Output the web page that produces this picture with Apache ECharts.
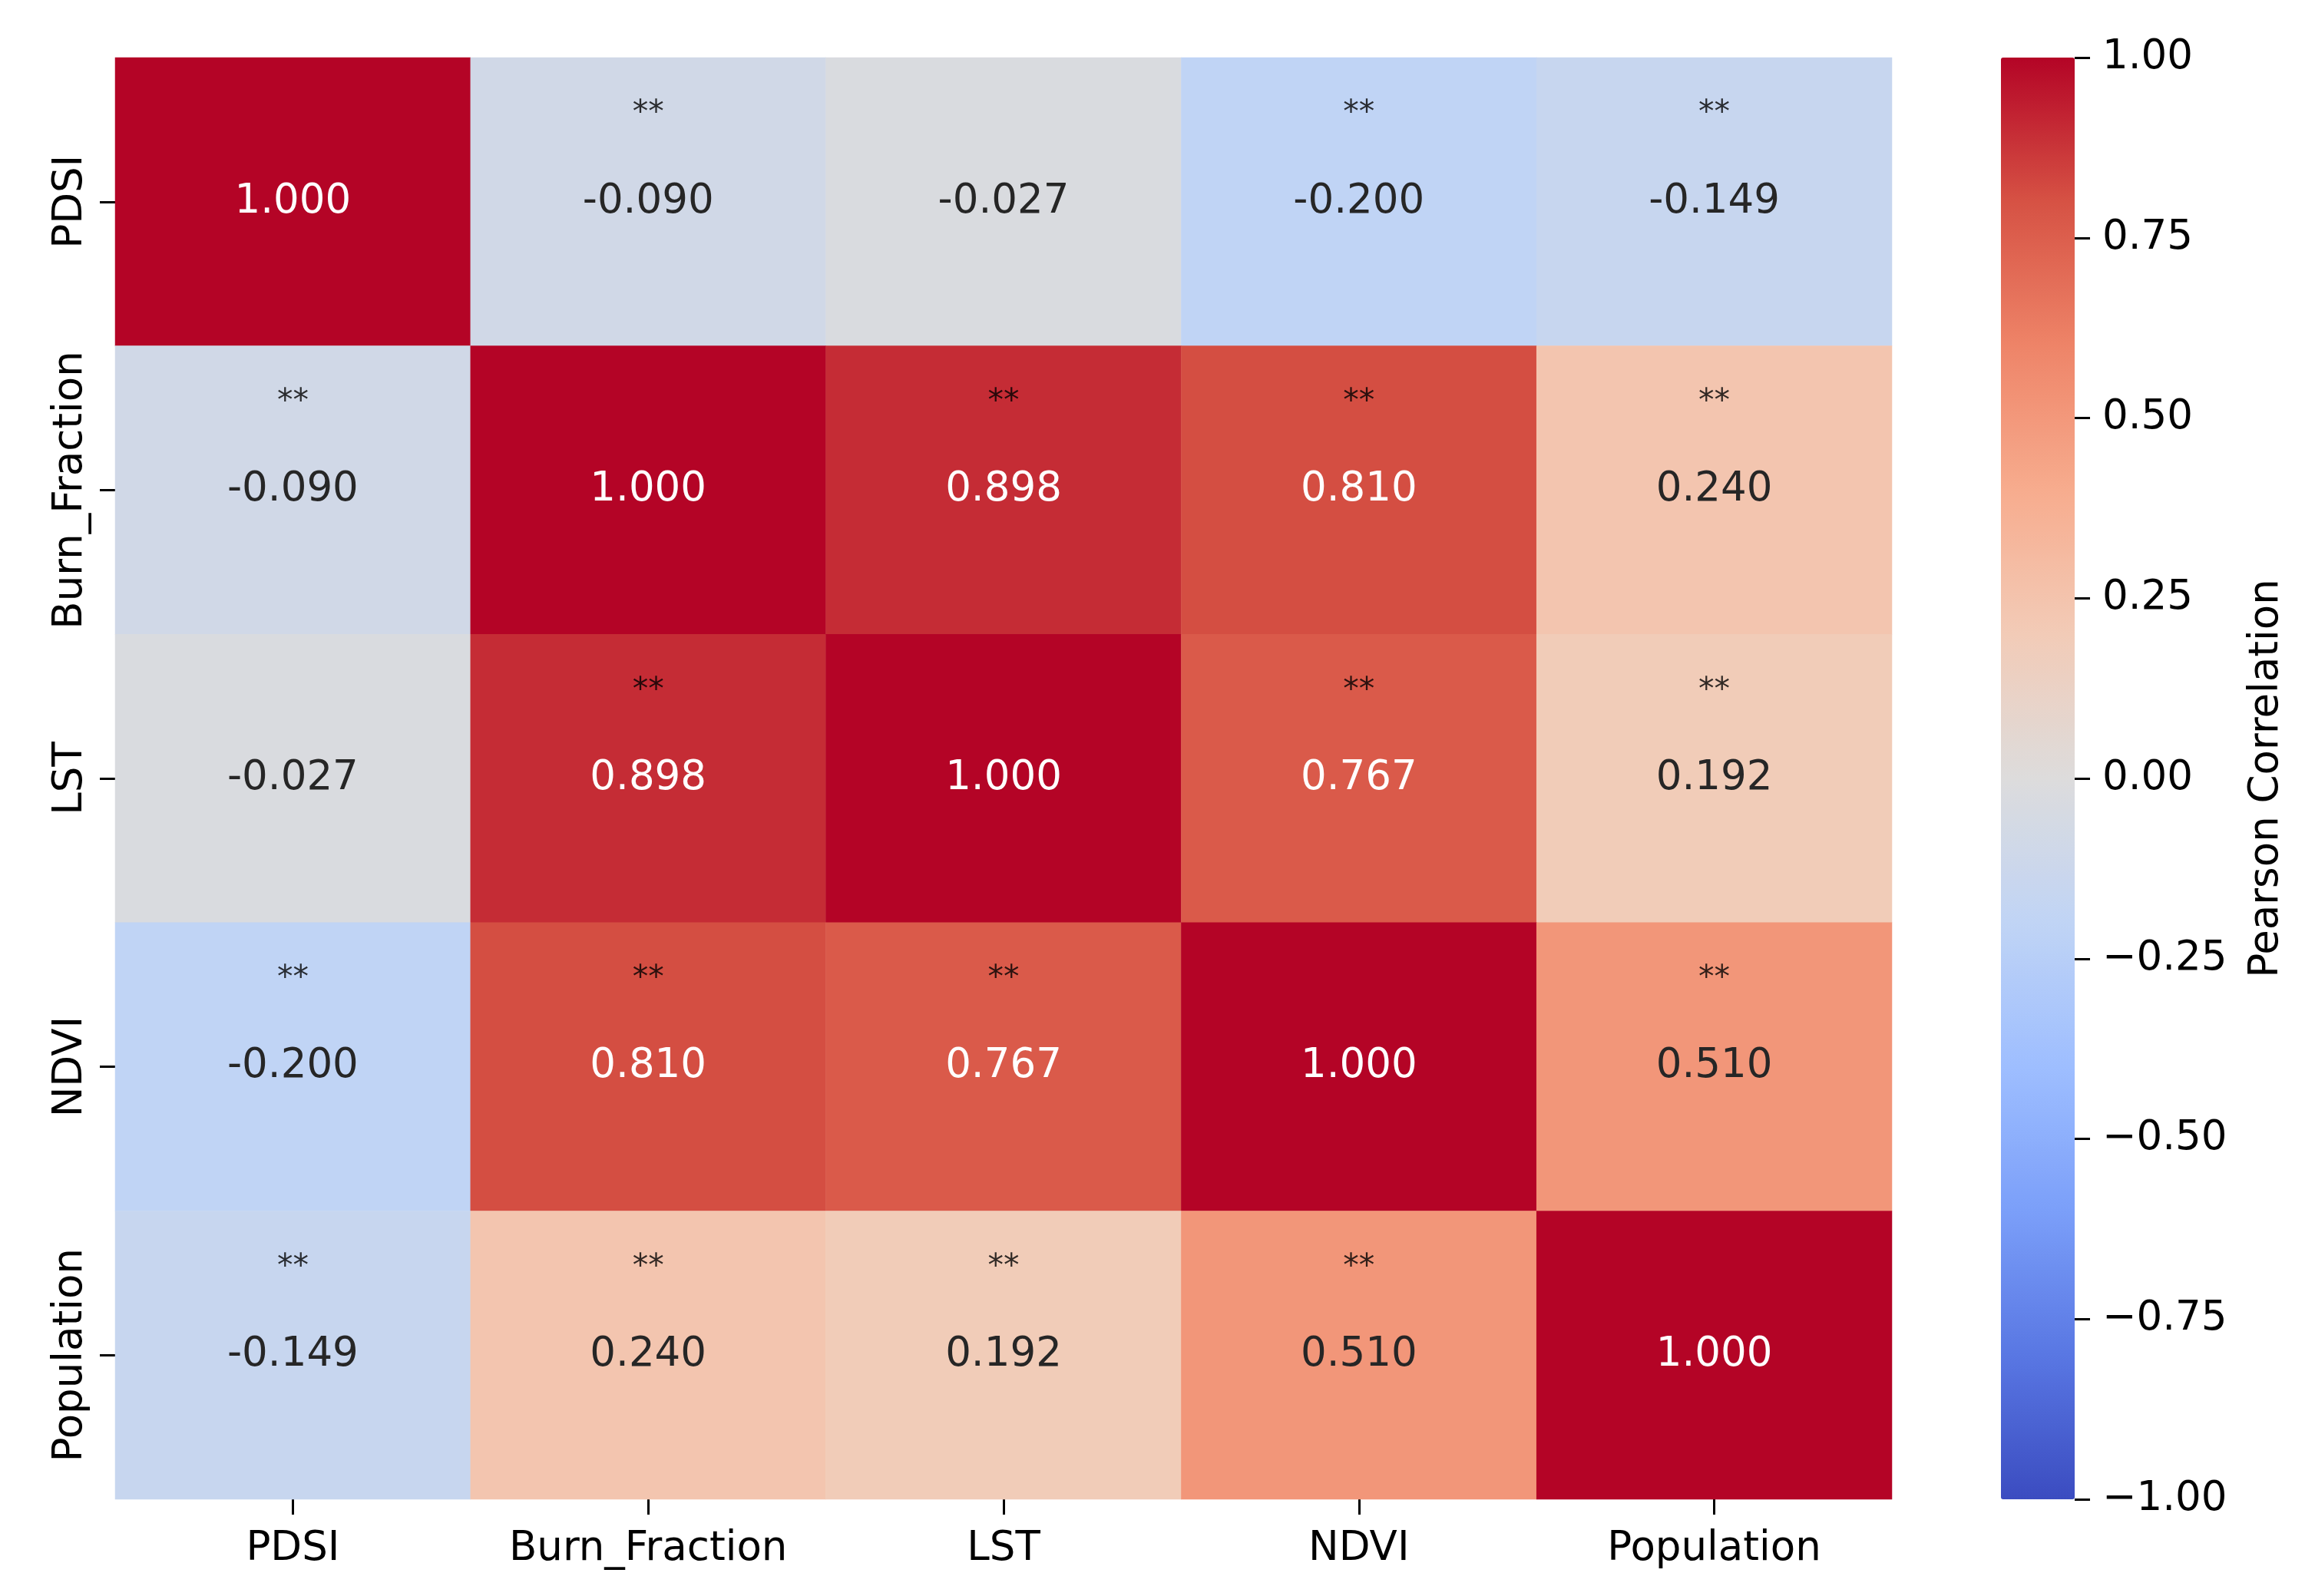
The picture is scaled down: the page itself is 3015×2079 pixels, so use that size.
<!DOCTYPE html>
<html>
<head>
<meta charset="utf-8">
<script src="https://cdn.jsdelivr.net/npm/echarts@6/dist/echarts.min.js"></script>
<style>
html,body{margin:0;padding:0;background:#fff;}
#chart{width:3015px;height:2079px;}
</style>
</head>
<body>
<div id="chart"></div>
<script>
const variables = ['PDSI', 'Burn_Fraction', 'LST', 'NDVI', 'Population'];
const corrPDSI = [1.000, -0.090, -0.027, -0.200, -0.149];
const corrBurn = [-0.090, 1.000, 0.898, 0.810, 0.240];
const corrLST = [-0.027, 0.898, 1.000, 0.767, 0.192];
const corrNDVI = [-0.200, 0.810, 0.767, 1.000, 0.510];
const corrPop = [-0.149, 0.240, 0.192, 0.510, 1.000];
const sigPDSI = ['', '**', '', '**', '**'];
const sigBurn = ['**', '', '**', '**', '**'];
const sigLST = ['', '**', '', '**', '**'];
const sigNDVI = ['**', '**', '**', '', '**'];
const sigPop = ['**', '**', '**', '**', ''];
const colorbarTicks = [-1.00, -0.75, -0.50, -0.25, 0.00, 0.25, 0.50, 0.75, 1.00];
const colorbarLabel = 'Pearson Correlation';
const coolwarm = ['#3b4cc0', '#5977e3', '#7b9ff9', '#9ebeff', '#c0d4f5', '#dddcdc',
                  '#f2cbb7', '#f7ac8e', '#ee8468', '#d65244', '#b40426'];

const matrix = [corrPDSI, corrBurn, corrLST, corrNDVI, corrPop];
const sig = [sigPDSI, sigBurn, sigLST, sigNDVI, sigPop];

const heatData = [];
const starData = [];
matrix.forEach((row, r) => {
  row.forEach((v, c) => {
    heatData.push({
      value: [c, r, v],
      label: { color: v > 0.7 ? '#ffffff' : '#262626' }
    });
    if (sig[r][c]) starData.push({ value: [c, r], name: sig[r][c] });
  });
});

const FONT = 'DejaVu Sans';
const FS = 53;
const chart = echarts.init(document.getElementById('chart'), null, { renderer: 'canvas' });
chart.setOption({
  backgroundColor: '#ffffff',
  animation: false,
  textStyle: { fontFamily: FONT },
  grid: [
    { left: 150, top: 75, width: 2314, height: 1878 },
    { left: 2606, top: 75, width: 96, height: 1878 }
  ],
  xAxis: [
    {
      type: 'category', data: variables, gridIndex: 0, position: 'bottom',
      axisLine: { show: false },
      axisTick: { show: true, alignWithLabel: true, length: 20, lineStyle: { color: '#000', width: 3 } },
      axisLabel: { color: '#000', fontSize: FS, fontFamily: FONT, margin: 39, interval: 0 },
      splitLine: { show: false }
    },
    { type: 'value', gridIndex: 1, show: false, min: 0, max: 1,
      axisLine: { show: false, onZero: false }, axisTick: { show: false }, axisLabel: { show: false } }
  ],
  yAxis: [
    {
      type: 'category', data: variables, gridIndex: 0, inverse: true,
      axisLine: { show: false },
      axisTick: { show: true, alignWithLabel: true, length: 20, lineStyle: { color: '#000', width: 3 } },
      axisLabel: { color: '#000', fontSize: FS, fontFamily: FONT, rotate: 90, margin: 31, interval: 0 },
      splitLine: { show: false }
    },
    {
      type: 'value', gridIndex: 1, position: 'right', min: -1, max: 1, interval: 0.25,
      z: 10,
      axisLine: { show: false, onZero: false },
      axisTick: { show: true, inside: false, length: 20, lineStyle: { color: '#000', width: 3 } },
      axisLabel: {
        color: '#000', fontSize: FS, fontFamily: FONT, margin: 36, padding: [10, 0, 0, 0],
        formatter: v => v.toFixed(2).replace('-', '\u2212')
      },
      splitLine: { show: false },
      name: colorbarLabel, nameLocation: 'middle', nameRotate: 90, nameGap: 224,
      nameTextStyle: { color: '#000', fontSize: FS, fontFamily: FONT }
    }
  ],
  visualMap: {
    type: 'continuous', seriesIndex: 0, dimension: 2, min: -1, max: 1,
    calculable: false, orient: 'vertical', left: 2606, top: 75, z: 1,
    itemWidth: 96, itemHeight: 1878, padding: 0,
    indicatorSize: 0, handleSize: 0,
    handleStyle: { opacity: 0 }, indicatorStyle: { opacity: 0 },
    textStyle: { color: 'rgba(0,0,0,0)', fontSize: 1 },
    inRange: { color: coolwarm }, hoverLink: false
  },
  series: [
    {
      type: 'heatmap', xAxisIndex: 0, yAxisIndex: 0, data: heatData,
      label: {
        show: true, fontSize: FS, fontFamily: FONT, padding: [4, 0, 0, 0],
        formatter: p => p.value[2].toFixed(3)
      },
      emphasis: { disabled: true }
    },
    {
      type: 'scatter', xAxisIndex: 0, yAxisIndex: 0, data: starData,
      symbolSize: 1, itemStyle: { color: 'rgba(0,0,0,0)' },
      label: {
        show: true, position: 'inside', offset: [0, -114], color: '#000',
        fontSize: 41, fontFamily: FONT, formatter: p => p.name
      },
      emphasis: { disabled: true }, silent: true
    },
    { type: 'scatter', xAxisIndex: 1, yAxisIndex: 1, data: [], silent: true }
  ]
});
</script>
</body>
</html>
